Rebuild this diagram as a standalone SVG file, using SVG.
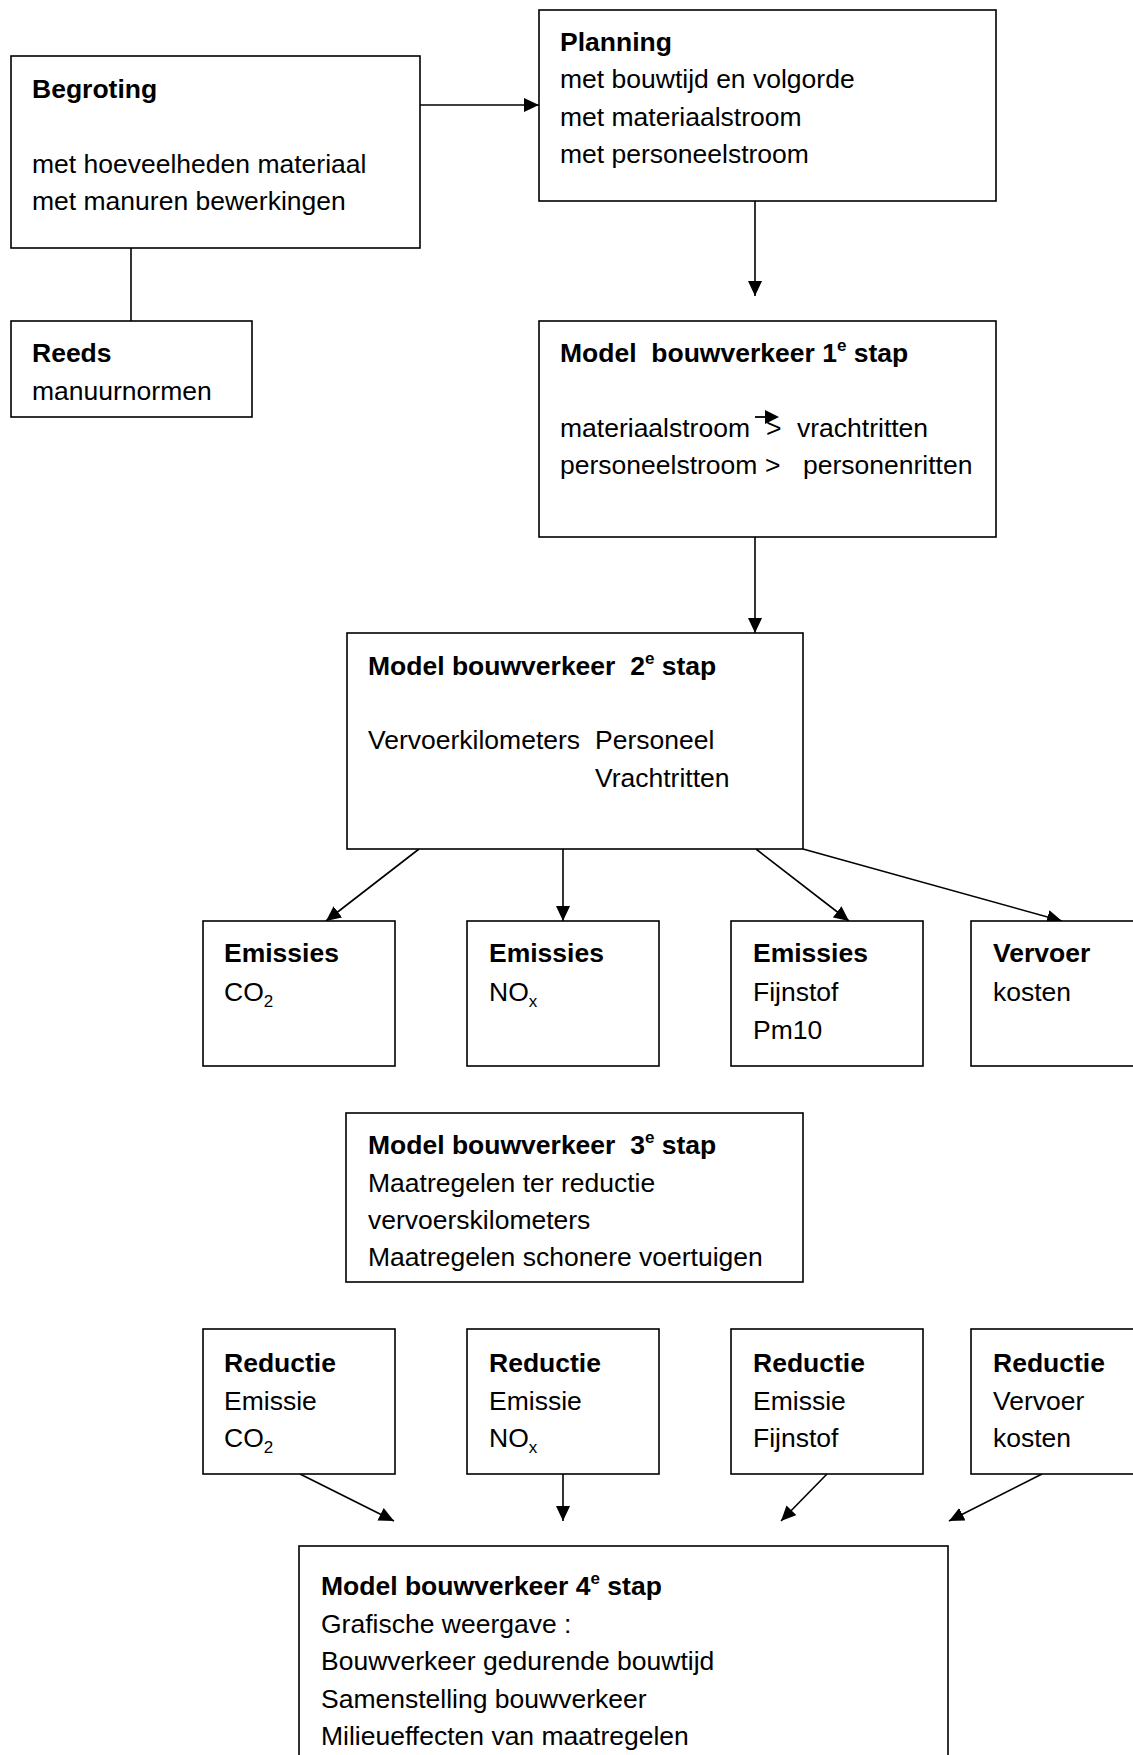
<svg xmlns="http://www.w3.org/2000/svg" width="1133" height="1755" viewBox="0 0 1133 1755">
<style>
.box{fill:#fff;stroke:#000;stroke-width:1.6}
.t{font-family:"Liberation Sans",Arial,sans-serif;font-size:26.5px;fill:#000}
.b{font-weight:bold}
.c{fill:none;stroke:#000;stroke-width:1.6}
.a{marker-end:url(#ah)}
</style>
<defs>
<marker id="ah" markerUnits="userSpaceOnUse" markerWidth="16" markerHeight="14" refX="15" refY="7" orient="auto">
<path d="M0,0 L15,7 L0,14 z" fill="#000"/>
</marker>
<clipPath id="clip3"><rect x="340" y="1100" width="470" height="173"/></clipPath>
</defs>
<rect width="1133" height="1755" fill="#fff"/>

<g id="connectors">
<line class="c a" x1="420" y1="105" x2="539" y2="105"/>
<line class="c" x1="131" y1="248" x2="131" y2="321"/>
<line class="c a" x1="755" y1="201" x2="755" y2="296"/>
<line class="c a" x1="755" y1="537" x2="755" y2="633"/>
<line class="c a" x1="419" y1="849" x2="326" y2="921"/>
<line class="c a" x1="563" y1="849" x2="563" y2="921"/>
<line class="c a" x1="756" y1="849" x2="849" y2="921"/>
<line class="c a" x1="803" y1="849" x2="1062" y2="921"/>
<line class="c a" x1="300" y1="1474" x2="394" y2="1521"/>
<line class="c a" x1="563" y1="1474" x2="563" y2="1521"/>
<line class="c a" x1="827" y1="1474" x2="781" y2="1521"/>
<line class="c a" x1="1042" y1="1474" x2="949" y2="1521"/>
</g>

<g id="begroting">
<rect class="box" x="11" y="56" width="409" height="192"/>
<text class="t b" x="32" y="98">Begroting</text>
<text class="t" x="32" y="173">met hoeveelheden materiaal</text>
<text class="t" x="32" y="210">met manuren bewerkingen</text>
</g>

<g id="reeds">
<rect class="box" x="11" y="321" width="241" height="96"/>
<text class="t b" x="32" y="362">Reeds</text>
<text class="t" x="32" y="400">manuurnormen</text>
</g>

<g id="planning">
<rect class="box" x="539" y="10" width="457" height="191"/>
<text class="t b" x="560" y="51">Planning</text>
<text class="t" x="560" y="88">met bouwtijd en volgorde</text>
<text class="t" x="560" y="126">met materiaalstroom</text>
<text class="t" x="560" y="163">met personeelstroom</text>
</g>

<g id="model1">
<rect class="box" x="539" y="321" width="457" height="216"/>
<text class="t b" x="560" y="362" xml:space="preserve">Model  bouwverkeer 1<tspan font-size="17" dy="-11">e</tspan><tspan dy="11"> stap</tspan></text>
<text class="t" y="437"><tspan x="560">materiaalstroom</tspan><tspan x="766">&gt;</tspan><tspan x="797">vrachtritten</tspan></text>
<text class="t" y="474"><tspan x="560">personeelstroom</tspan><tspan x="765">&gt;</tspan><tspan x="803">personenritten</tspan></text>
<line x1="755" y1="417" x2="767" y2="417" stroke="#000" stroke-width="1.8"/>
<path d="M765,410 L779,417 L765,424 z" fill="#000"/>
</g>

<g id="model2">
<rect class="box" x="347" y="633" width="456" height="216"/>
<text class="t b" x="368" y="675" xml:space="preserve">Model bouwverkeer  2<tspan font-size="17" dy="-11">e</tspan><tspan dy="11"> stap</tspan></text>
<text class="t" x="368" y="749">Vervoerkilometers</text>
<text class="t" x="595" y="749">Personeel</text>
<text class="t" x="595" y="787">Vrachtritten</text>
</g>

<g id="emissies-co2">
<rect class="box" x="203" y="921" width="192" height="145"/>
<text class="t b" x="224" y="962">Emissies</text>
<text class="t" x="224" y="1001">CO<tspan font-size="17" dy="6">2</tspan></text>
</g>
<g id="emissies-nox">
<rect class="box" x="467" y="921" width="192" height="145"/>
<text class="t b" x="489" y="962">Emissies</text>
<text class="t" x="489" y="1001">NO<tspan font-size="17" dy="6">x</tspan></text>
</g>
<g id="emissies-fijnstof">
<rect class="box" x="731" y="921" width="192" height="145"/>
<text class="t b" x="753" y="962">Emissies</text>
<text class="t" x="753" y="1001">Fijnstof</text>
<text class="t" x="753" y="1039">Pm10</text>
</g>
<g id="vervoer-kosten">
<rect class="box" x="971" y="921" width="200" height="145"/>
<text class="t b" x="993" y="962">Vervoer</text>
<text class="t" x="993" y="1001">kosten</text>
</g>

<g id="model3">
<rect class="box" x="346" y="1113" width="457" height="169"/>
<text class="t b" x="368" y="1154" xml:space="preserve">Model bouwverkeer  3<tspan font-size="17" dy="-11">e</tspan><tspan dy="11"> stap</tspan></text>
<text class="t" x="368" y="1192">Maatregelen ter reductie</text>
<text class="t" x="368" y="1229">vervoerskilometers</text>
<text class="t" x="368" y="1266" clip-path="url(#clip3)">Maatregelen schonere voertuigen</text>
</g>

<g id="reductie-co2">
<rect class="box" x="203" y="1329" width="192" height="145"/>
<text class="t b" x="224" y="1372">Reductie</text>
<text class="t" x="224" y="1410">Emissie</text>
<text class="t" x="224" y="1447">CO<tspan font-size="17" dy="6">2</tspan></text>
</g>
<g id="reductie-nox">
<rect class="box" x="467" y="1329" width="192" height="145"/>
<text class="t b" x="489" y="1372">Reductie</text>
<text class="t" x="489" y="1410">Emissie</text>
<text class="t" x="489" y="1447">NO<tspan font-size="17" dy="6">x</tspan></text>
</g>
<g id="reductie-fijnstof">
<rect class="box" x="731" y="1329" width="192" height="145"/>
<text class="t b" x="753" y="1372">Reductie</text>
<text class="t" x="753" y="1410">Emissie</text>
<text class="t" x="753" y="1447">Fijnstof</text>
</g>
<g id="reductie-vervoer">
<rect class="box" x="971" y="1329" width="200" height="145"/>
<text class="t b" x="993" y="1372">Reductie</text>
<text class="t" x="993" y="1410">Vervoer</text>
<text class="t" x="993" y="1447">kosten</text>
</g>

<g id="model4">
<rect class="box" x="299" y="1546" width="649" height="240"/>
<text class="t b" x="321" y="1595">Model bouwverkeer 4<tspan font-size="17" dy="-11">e</tspan><tspan dy="11"> stap</tspan></text>
<text class="t" x="321" y="1633">Grafische weergave :</text>
<text class="t" x="321" y="1670">Bouwverkeer gedurende bouwtijd</text>
<text class="t" x="321" y="1708">Samenstelling bouwverkeer</text>
<text class="t" x="321" y="1745">Milieueffecten van maatregelen</text>
</g>
</svg>
